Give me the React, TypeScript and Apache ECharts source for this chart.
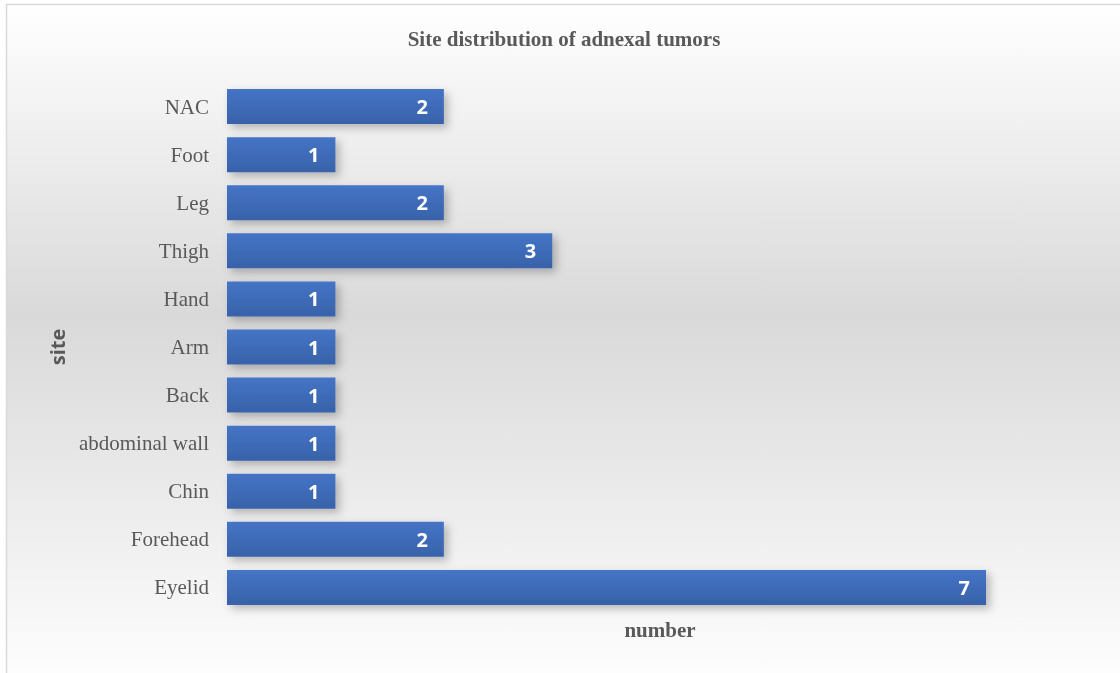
import React, { useEffect, useRef } from "react";
import * as echarts from "echarts";

const categories = ["Eyelid", "Forehead", "Chin", "abdominal wall", "Back", "Arm", "Hand", "Thigh", "Leg", "Foot", "NAC"];
const counts = [7, 2, 1, 1, 1, 1, 1, 3, 2, 1, 2];
const chartTitle = "Site distribution of adnexal tumors";
const xName = "number";
const yName = "site";

export default function App() {
  const ref = useRef<HTMLDivElement>(null);
  useEffect(() => {
    const chart = echarts.init(ref.current!, undefined, { renderer: "svg" });
    chart.setOption({
      animation: false,
      graphic: [
        {
          type: "rect",
          z: -10,
          shape: { x: 6.5, y: 4.5, width: 1130, height: 690 },
          style: {
            fill: new echarts.graphic.LinearGradient(0, 0, 0, 1, [
              { offset: 0, color: "#ffffff" },
              { offset: 0.45, color: "#d9d9d9" },
              { offset: 1, color: "#ffffff" },
            ]),
            stroke: "#d9d9d9",
            lineWidth: 1.5,
          },
        },
        {
          type: "text",
          x: 564,
          y: 39,
          style: {
            text: chartTitle,
            font: "bold 21px 'Liberation Serif'",
            fill: "#595959",
            textAlign: "center",
            textVerticalAlign: "middle",
          },
        },
        {
          type: "text",
          x: 57,
          y: 347,
          rotation: Math.PI / 2,
          style: {
            text: yName,
            font: "bold 20px 'Open Sans'",
            fill: "#595959",
            textAlign: "center",
            textVerticalAlign: "middle",
          },
        },
        {
          type: "text",
          x: 660,
          y: 630,
          style: {
            text: xName,
            font: "bold 21px 'Liberation Serif'",
            fill: "#595959",
            textAlign: "center",
            textVerticalAlign: "middle",
          },
        },
      ],
      grid: { left: 227, top: 82.5, width: 759, height: 529, containLabel: false },
      xAxis: {
        type: "value",
        min: 0,
        max: 7,
        show: false,
      },
      yAxis: {
        type: "category",
        data: categories,
        axisLine: { show: false },
        axisTick: { show: false },
        axisLabel: {
          margin: 18,
          fontFamily: "Liberation Serif",
          fontSize: 21,
          color: "#595959",
        },
      },
      series: [
        {
          type: "bar",
          data: counts,
          barWidth: 35,
          itemStyle: {
            color: new echarts.graphic.LinearGradient(0, 0, 0, 1, [
              { offset: 0, color: "#4574c6" },
              { offset: 1, color: "#3862a9" },
            ]),
            shadowBlur: 8,
            shadowOffsetX: 4,
            shadowOffsetY: 4,
            shadowColor: "rgba(0,0,0,0.25)",
          },
          label: {
            show: true,
            position: "insideRight",
            distance: 16,
            color: "#ffffff",
            fontFamily: "Open Sans",
            fontWeight: "bold",
            fontSize: 20,
          },
        },
      ],
    });
    return () => chart.dispose();
  }, []);
  return <div ref={ref} style={{ position: "fixed", left: 0, top: 0, width: 1120, height: 673 }} />;
}
